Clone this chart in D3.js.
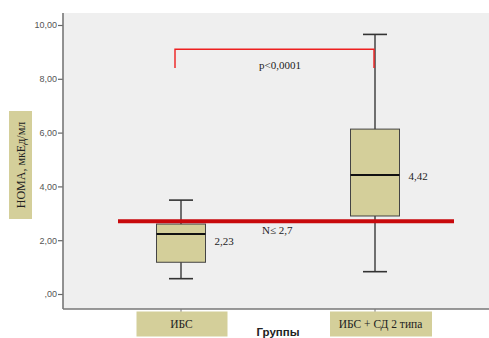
<!DOCTYPE html>
<html>
<head>
<meta charset="utf-8">
<script src="https://cdn.jsdelivr.net/npm/d3@7/dist/d3.min.js"></script>
<style>
  html, body { margin: 0; padding: 0; background: #ffffff; }
  svg { display: block; }
</style>
</head>
<body>
<svg id="chart" width="489" height="338"></svg>
<script>
// Group labels along the x axis
const groups = ["ИБС", "ИБС + СД 2 типа"];
// Box-plot statistics per group
const whiskerLow  = [0.57, 0.83];
const quartile1   = [1.18, 2.90];
const medians     = [2.23, 4.42];
const quartile3   = [2.60, 6.13];
const whiskerHigh = [3.49, 9.65];
const medianLabels = ["2,23", "4,42"];
// Y axis ticks
const yTicks = [0, 2, 4, 6, 8, 10];
const yTickLabels = [",00", "2,00", "4,00", "6,00", "8,00", "10,00"];
// Reference norm line and significance bracket
const normValue = 2.7;
const normLabel = "N\u2264 2,7";
const bracketTop = 9.1;
const bracketFoot = 8.4;
const pLabel = "p<0,0001";
const yTitle = "HOMA, мкЕд/мл";
const xTitle = "Группы";

const svg = d3.select("#chart");
const serif = "'Liberation Serif', 'Times New Roman', serif";
const sans = "'Liberation Sans', Arial, sans-serif";
const khaki = "#d4cf9a";

const plot = { left: 63, right: 489, top: 13, bottom: 309 };
const y = d3.scaleLinear().domain([0, 10]).range([294, 25]);
const x = d3.scalePoint().domain(groups).range([181, 375]);

// plot background
svg.append("rect")
  .attr("x", plot.left).attr("y", plot.top)
  .attr("width", plot.right - plot.left).attr("height", plot.bottom - plot.top)
  .attr("fill", "#efefef");

// y axis
const yAxis = d3.axisLeft(y)
  .tickValues(yTicks)
  .tickFormat((d, i) => yTickLabels[i])
  .tickSize(5).tickSizeOuter(0);
const gy = svg.append("g").attr("transform", `translate(${plot.left},0)`).call(yAxis);
gy.select(".domain").remove();
gy.selectAll(".tick line").attr("stroke", "#666").attr("stroke-width", 1.2);
gy.selectAll(".tick text")
  .attr("font-family", sans).attr("font-size", 9).attr("fill", "#555").attr("x", -6);
svg.append("line")
  .attr("x1", plot.left).attr("x2", plot.left)
  .attr("y1", plot.top).attr("y2", plot.bottom)
  .attr("stroke", "#777").attr("stroke-width", 1.6);

// x axis
svg.append("line")
  .attr("x1", plot.left).attr("x2", plot.right)
  .attr("y1", plot.bottom).attr("y2", plot.bottom)
  .attr("stroke", "#777").attr("stroke-width", 1.6);
svg.selectAll(".xtick").data(groups).enter().append("line")
  .attr("x1", d => x(d)).attr("x2", d => x(d))
  .attr("y1", plot.bottom).attr("y2", plot.bottom + 3)
  .attr("stroke", "#777").attr("stroke-width", 1);

// group label tags
const tagW = [91, 102];
const tags = svg.selectAll(".tag").data(groups).enter().append("g");
tags.append("rect")
  .attr("x", (d, i) => x(d) - tagW[i] / 2 + (i === 0 ? 1 : 6))
  .attr("y", plot.bottom + 2.5)
  .attr("width", (d, i) => tagW[i]).attr("height", 25)
  .attr("fill", khaki);
tags.append("text")
  .attr("x", (d, i) => x(d) + (i === 0 ? 1 : 6) - 0.5)
  .attr("y", plot.bottom + 19)
  .attr("text-anchor", "middle")
  .attr("font-family", serif).attr("font-size", 11.5).attr("fill", "#222")
  .text(d => d);

svg.append("text")
  .attr("x", 278).attr("y", 336)
  .attr("text-anchor", "middle")
  .attr("font-family", sans).attr("font-size", 11.5).attr("font-weight", "bold").attr("fill", "#222")
  .text(xTitle);

// y title tag
svg.append("rect").attr("x", 9).attr("y", 111).attr("width", 23).attr("height", 108).attr("fill", khaki);
svg.append("text")
  .attr("transform", "translate(24.5,165) rotate(-90)")
  .attr("text-anchor", "middle")
  .attr("font-family", serif).attr("font-size", 12).attr("fill", "#222")
  .text(yTitle);

// box plots
const boxW = 49, capW = 24;
const boxes = svg.selectAll(".box").data(groups).enter().append("g");
boxes.append("line")
  .attr("x1", d => x(d)).attr("x2", d => x(d))
  .attr("y1", (d, i) => y(whiskerHigh[i])).attr("y2", (d, i) => y(whiskerLow[i]))
  .attr("stroke", "#444").attr("stroke-width", 1.5);
boxes.append("line")
  .attr("x1", d => x(d) - capW / 2).attr("x2", d => x(d) + capW / 2)
  .attr("y1", (d, i) => y(whiskerHigh[i])).attr("y2", (d, i) => y(whiskerHigh[i]))
  .attr("stroke", "#333").attr("stroke-width", 1.6);
boxes.append("line")
  .attr("x1", d => x(d) - capW / 2).attr("x2", d => x(d) + capW / 2)
  .attr("y1", (d, i) => y(whiskerLow[i])).attr("y2", (d, i) => y(whiskerLow[i]))
  .attr("stroke", "#333").attr("stroke-width", 1.6);
boxes.append("rect")
  .attr("x", d => x(d) - boxW / 2)
  .attr("y", (d, i) => y(quartile3[i]))
  .attr("width", boxW)
  .attr("height", (d, i) => y(quartile1[i]) - y(quartile3[i]))
  .attr("fill", khaki).attr("stroke", "#444").attr("stroke-width", 1);
boxes.append("line")
  .attr("x1", d => x(d) - boxW / 2).attr("x2", d => x(d) + boxW / 2)
  .attr("y1", (d, i) => y(medians[i])).attr("y2", (d, i) => y(medians[i]))
  .attr("stroke", "#111").attr("stroke-width", 2);
boxes.append("text")
  .attr("x", d => x(d) + boxW / 2 + 9)
  .attr("y", (d, i) => y(medians[i]) + (i === 0 ? 11 : 5))
  .attr("font-family", serif).attr("font-size", 11).attr("fill", "#222")
  .text((d, i) => medianLabels[i]);

// norm line
svg.append("line")
  .attr("x1", 118).attr("x2", 454)
  .attr("y1", y(normValue)).attr("y2", y(normValue))
  .attr("stroke", "#c8090c").attr("stroke-width", 4);
svg.append("text")
  .attr("x", 262).attr("y", y(normValue) + 13)
  .attr("font-family", serif).attr("font-size", 11).attr("fill", "#222")
  .text(normLabel);

// significance bracket
const bx1 = x(groups[0]) - 6, bx2 = x(groups[1]) - 1;
svg.append("path")
  .attr("d", d3.line()([[bx1, y(bracketFoot)], [bx1, y(bracketTop)], [bx2, y(bracketTop)], [bx2, y(bracketFoot)]]))
  .attr("fill", "none").attr("stroke", "#ee2020").attr("stroke-width", 1.4);
svg.append("text")
  .attr("x", 280).attr("y", 69)
  .attr("text-anchor", "middle")
  .attr("font-family", serif).attr("font-size", 11).attr("fill", "#222")
  .text(pLabel);
</script>
</body>
</html>
